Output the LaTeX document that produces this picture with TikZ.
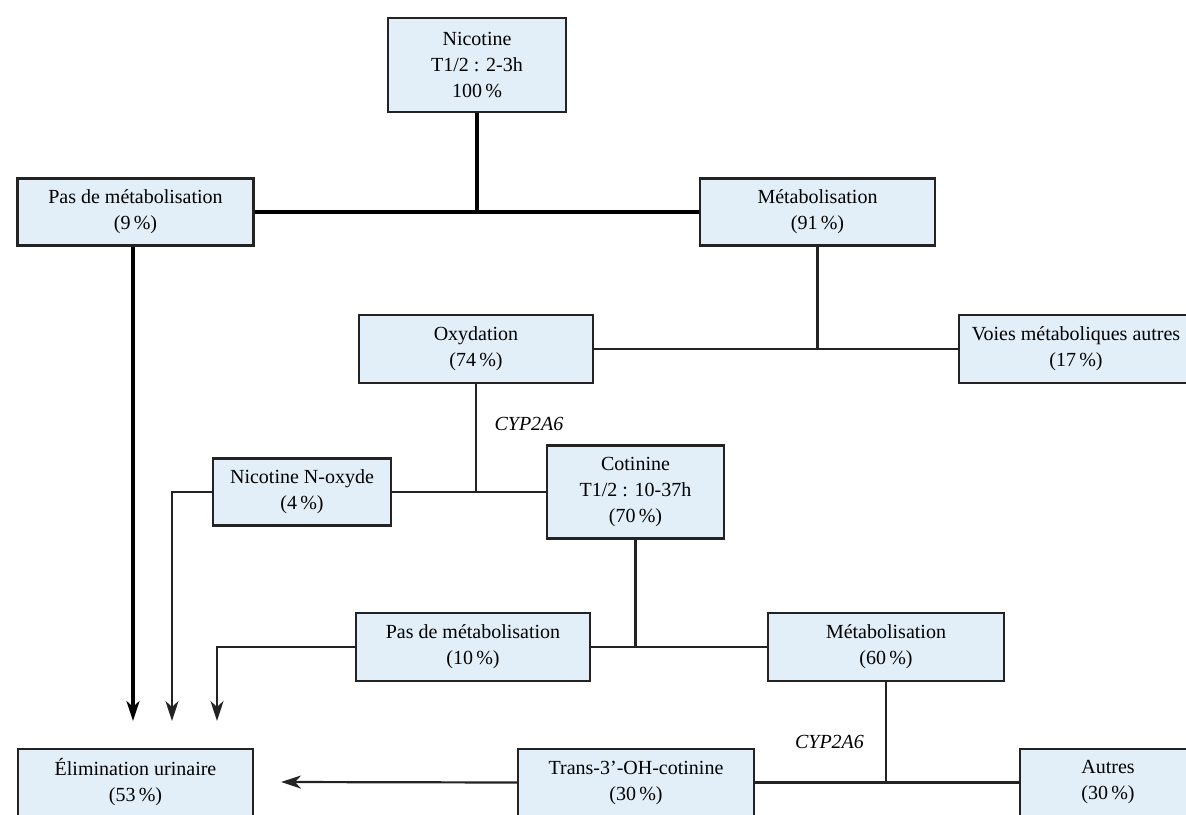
\documentclass[tikz,border=0pt]{standalone}
\usepackage{fontspec}
\setmainfont{Liberation Serif}
\usetikzlibrary{arrows.meta}
\definecolor{boxfill}{RGB}{226,238,248}
\definecolor{boxline}{RGB}{35,35,35}
\begin{document}
\begin{tikzpicture}[x=1pt,y=-1pt,
  box/.style={draw=boxline, line width=2.2pt, fill=boxfill, minimum width=#1,
    minimum height=67, align=center, inner sep=0pt,
    font=\fontsize{20}{26}\selectfont},
  box/.default=234,
  lbl/.style={font=\itshape\fontsize{20}{22}\selectfont, inner sep=0pt},
  thickline/.style={draw=black, line width=3.4pt},
  thinline/.style={draw=boxline, line width=2.2pt},
  arr/.style={-{Stealth[length=20pt,width=13pt,inset=6pt]}}]
\clip (0,0) rectangle (1186,814);
\fill[white] (0,0) rectangle (1186,814);

% nodes
\node[box=178, minimum height=94] (nic) at (477,65) {Nicotine\\T1/2 : 2-3h\\100\,\%};
\node[box=236] (pas1) at (135.5,212) {Pas de métabolisation\\(9\,\%)};
\node[box=235] (met1) at (817.5,212) {Métabolisation\\(91\,\%)};
\node[box=234, minimum height=68] (oxy) at (476,349) {Oxydation\\(74\,\%)};
\node[box=234, minimum height=68] (voies) at (1076,349) {Voies métaboliques autres\\(17\,\%)};
\node[box=178] (noxy) at (302,492) {Nicotine N-oxyde\\(4\,\%)};
\node[box=177, minimum height=93] (cot) at (635.5,492) {Cotinine\\T1/2 : 10-37h\\(70\,\%)};
\node[box=234, minimum height=68] (pas2) at (473,647) {Pas de métabolisation\\(10\,\%)};
\node[box=236, minimum height=68] (met2) at (886,647) {Métabolisation\\(60\,\%)};
\node[box=235] (elim) at (135.5,782.5) {Élimination urinaire\\(53\,\%)};
\node[box=236] (trans) at (636,782.5) {Trans-3’-OH-cotinine\\(30\,\%)};
\node[box=176] (autres) at (1108,782.5) {Autres\\(30\,\%)};

\node[lbl] (cyp1) at (529,424) {CYP2A6};
\node[lbl] (cyp2) at (829.5,742) {CYP2A6};

% arrow end points
\coordinate (t1) at (133,721);
\coordinate (t2) at (172,721);
\coordinate (t3) at (217,721);
\coordinate (t4) at (281,782);

% connectors
\draw[thickline] (nic.south) -- (nic.south |- pas1.east);
\draw[thickline] (pas1.east) -- (met1.west);
\draw[thinline] (met1.south) -- (met1.south |- oxy.east);
\draw[thinline] (oxy.east) -- (voies.west);
\draw[thinline] (oxy.south) -- (oxy.south |- noxy.east);
\draw[thinline] (noxy.east) -- (cot.west);
\draw[thinline] (cot.south) -- (cot.south |- pas2.east);
\draw[thinline] (pas2.east) -- (met2.west);
\draw[thinline] (met2.south) -- (met2.south |- trans.east);
\draw[thinline] (trans.east) -- (autres.west);

\draw[thickline, arr] (pas1.south -| t1) -- (t1);
\draw[thinline, arr] (noxy.west) -- (noxy.west -| t2) -- (t2);
\draw[thinline, arr] (pas2.west) -- (pas2.west -| t3) -- (t3);
\draw[thinline, arr] (trans.west) -- (t4);
\end{tikzpicture}
\end{document}
